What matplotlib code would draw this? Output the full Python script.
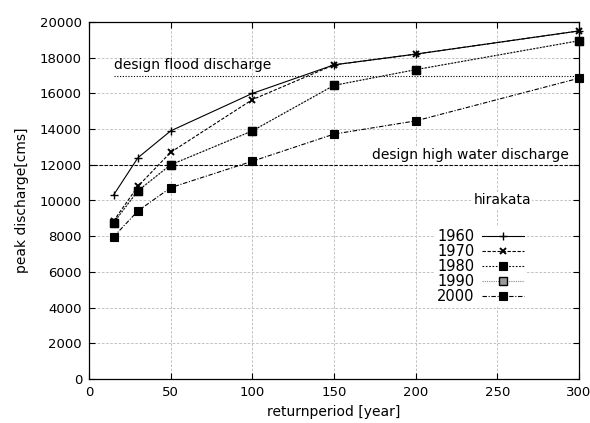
import matplotlib
matplotlib.use("Agg")
import matplotlib.pyplot as plt

# return periods [year]
periods = [15, 30, 50, 100, 150, 200, 300]

# peak discharge [cms] at hirakata for each era
q1960 = [10300, 12400, 13900, 16000, 17600, 18200, 19500]
q1970 = [8850, 10800, 12700, 15650, 17600, 18200, 19500]
q1980 = [8750, 10550, 12000, 13900, 16450, 17330, 18950]
q1990 = [8750, 10550, 12000, 13900, 16450, 17330, 18950]
q2000 = [7960, 9420, 10720, 12200, 13720, 14460, 16850]

years = ["1960", "1970", "1980", "1990", "2000"]

design_flood = 17000
design_high_water = 12000

plt.rcParams["font.family"] = ["DejaVu Sans"]
plt.rcParams["font.size"] = 9.5

fig = plt.figure(figsize=(5.9, 4.23), dpi=100)
ax = fig.add_axes([89 / 590, 44 / 423, 490 / 590, 357 / 423])

ax.grid(True, color="#b8b8b8", linestyle=(0, (3, 2)), linewidth=0.6)
ax.set_axisbelow(True)

ax.plot([periods[0], 300], [design_flood] * 2, color="black", lw=0.8,
        linestyle=(0, (1, 1.5)), zorder=2)
ax.plot([0, 300], [design_high_water] * 2, color="black", lw=0.8,
        linestyle=(0, (3, 1.5)), zorder=2)
ax.text(15, design_flood + 180, "design flood discharge", ha="left", va="bottom",
        fontsize=10, zorder=3)
ax.text(294, design_high_water + 180, "design high water discharge", ha="right",
        va="bottom", fontsize=10, zorder=3,
        bbox=dict(facecolor="white", edgecolor="none", pad=0.5))

# (style, zorder) per series; 1980 sits on top of the identical 1990 curve
styles = [
    dict(linestyle="-", marker="+", ms=6, mew=1.0, color="black"),
    dict(linestyle=(0, (3, 1.5)), marker="x", ms=5, mew=1.4, color="black"),
    dict(linestyle=(0, (1.5, 1.5)), marker="s", ms=5.5, mew=0.8, color="black"),
    dict(linestyle=(0, (1, 1)), marker="s", ms=5.5, mew=1.0, color="#888888",
         mec="black", mfc="#999999"),
    dict(linestyle=(0, (4, 1.5, 1, 1.5)), marker="s", ms=6, mew=0.8, color="black"),
]
orders = [4, 4, 5, 3, 4]
series = [q1960, q1970, q1980, q1990, q2000]

handles = []
for yr, q, st, z in zip(years, series, styles, orders):
    h, = ax.plot(periods, q, lw=0.8, label=yr, zorder=z, clip_on=False, **st)
    handles.append(h)

ax.set_xlim(0, 300)
ax.set_ylim(0, 20000)
ax.set_xticks(range(0, 301, 50))
ax.set_yticks(range(0, 20001, 2000))
ax.tick_params(direction="in", length=4, width=0.8, top=True, right=True,
               labelsize=9.5, pad=5)
for s in ax.spines.values():
    s.set_linewidth(0.9)

ax.set_xlabel("returnperiod [year]", fontsize=10, labelpad=4)
ax.set_ylabel("peak discharge[cms]", fontsize=10, labelpad=8)

ax.text(253, 10000, "hirakata", ha="center", va="center", fontsize=10, zorder=6,
        bbox=dict(facecolor="white", edgecolor="none", pad=1))

leg = ax.legend(handles=handles, loc="upper left", bbox_to_anchor=(0.705, 0.428),
                markerfirst=False, frameon=True, fancybox=False, edgecolor="none",
                framealpha=1, fontsize=10.5, handlelength=2.9, handletextpad=0.5,
                labelspacing=0.0, borderpad=0.2, borderaxespad=0)
leg.set_zorder(6)

fig.savefig("out.png", dpi=100)
